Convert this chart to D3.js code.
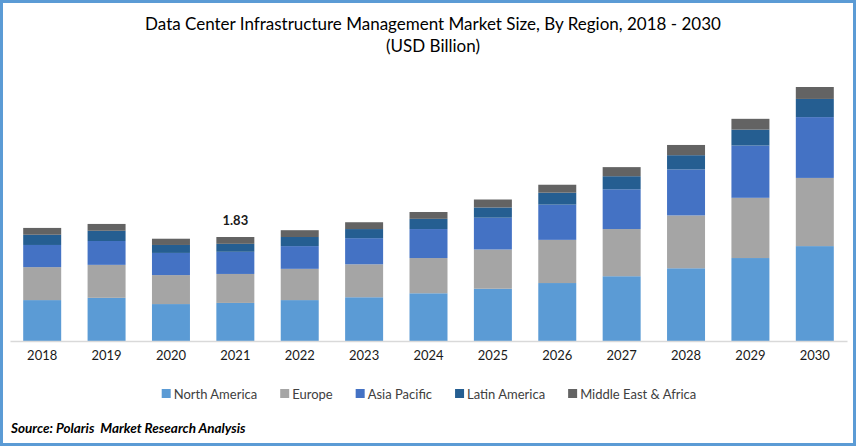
<!DOCTYPE html>
<html>
<head>
<meta charset="utf-8">
<script src="https://cdn.jsdelivr.net/npm/d3@7"></script>
<style>
  html, body { margin: 0; padding: 0; background: #fff; }
  svg { display: block; }
  text { font-family: Lato, "Open Sans", sans-serif; }
</style>
</head>
<body>
<svg id="chart" width="856" height="446"></svg>
<script>
const years = ["2018","2019","2020","2021","2022","2023","2024","2025","2026","2027","2028","2029","2030"];
const seriesNames = ["North America","Europe","Asia Pacific","Latin America","Middle East & Africa"];
const northAmerica = [0.72,0.76,0.65,0.67,0.72,0.77,0.84,0.92,1.02,1.14,1.28,1.46,1.67];
const europe       = [0.58,0.58,0.51,0.51,0.55,0.58,0.62,0.69,0.76,0.83,0.93,1.06,1.20];
const asiaPacific  = [0.39,0.42,0.39,0.39,0.40,0.46,0.51,0.56,0.62,0.70,0.81,0.92,1.07];
const latinAmerica = [0.18,0.18,0.14,0.14,0.16,0.16,0.18,0.18,0.21,0.23,0.25,0.28,0.32];
const middleEast   = [0.12,0.12,0.11,0.12,0.12,0.12,0.12,0.14,0.14,0.16,0.18,0.19,0.21];
const colors = ["#5b9bd5","#a5a5a5","#4472c4","#255e91","#636363"];
const annotation = { year: "2021", label: "1.83" };

const seriesValues = [northAmerica, europe, asiaPacific, latinAmerica, middleEast];
const table = years.map((y, i) => {
  const row = { year: y };
  seriesNames.forEach((s, j) => row[s] = seriesValues[j][i]);
  return row;
});

const svg = d3.select("#chart");
const W = 856, H = 446;

const x = d3.scaleBand().domain(years).range([10, 847]).paddingInner(0.41).paddingOuter(0.205);
const y = d3.scaleLinear().domain([0, 4.5]).range([341, 85.3]);

const stacked = d3.stack().keys(seriesNames)(table);

svg.append("g").selectAll("g").data(stacked).join("g")
  .attr("fill", (d, i) => colors[i])
  .selectAll("rect").data(d => d).join("rect")
  .attr("x", d => x(d.data.year))
  .attr("width", x.bandwidth())
  .attr("y", d => y(d[1]))
  .attr("height", d => y(d[0]) - y(d[1]));

// x axis
const xAxis = svg.append("g").attr("transform", "translate(0,341)")
  .call(d3.axisBottom(x).tickSize(0).tickPadding(10));
xAxis.select(".domain").attr("stroke", "#d9d9d9").attr("stroke-width", 1.5);
xAxis.selectAll("text").attr("font-size", 13).attr("fill", "#1a1a1a")
  .style("font-family", "Lato, sans-serif");

// annotation
const annIdx = years.indexOf(annotation.year);
const annTotal = seriesValues.reduce((s, arr) => s + arr[annIdx], 0);
svg.append("text")
  .attr("x", x(annotation.year) + x.bandwidth() / 2)
  .attr("y", y(annTotal) - 12)
  .attr("text-anchor", "middle")
  .attr("font-size", 13).attr("font-weight", "bold").attr("fill", "#1a1a1a")
  .text(annotation.label);

// title
svg.append("text").attr("x", 433).attr("y", 30).attr("text-anchor", "middle")
  .attr("font-size", 17).attr("fill", "#000")
  .text("Data Center Infrastructure Management Market Size, By Region, 2018 - 2030");
svg.append("text").attr("x", 433).attr("y", 52).attr("text-anchor", "middle")
  .attr("font-size", 17).attr("fill", "#000")
  .text("(USD Billion)");

// legend
const legend = svg.append("g");
const gap = 23;
let lx = 0;
seriesNames.forEach((name, i) => {
  const g = legend.append("g").attr("transform", `translate(${lx},0)`);
  g.append("rect").attr("x", 0).attr("y", -5).attr("width", 9).attr("height", 9).attr("fill", colors[i]);
  const t = g.append("text").attr("x", 12).attr("y", 0).attr("dy", "0.35em")
    .attr("font-size", 13).attr("fill", "#404040").text(name);
  lx += 12 + t.node().getComputedTextLength() + gap;
});
const lw = lx - gap;
legend.attr("transform", `translate(${429 - lw / 2},394)`);

// source
svg.append("text").attr("x", 11).attr("y", 433)
  .attr("font-size", 13.5).attr("font-weight", "bold").attr("font-style", "italic").attr("fill", "#000")
  .style("white-space", "pre")
  .text("Source: Polaris  Market Research Analysis");

// border
svg.append("rect").attr("x", 1.5).attr("y", 1.5).attr("width", W - 3).attr("height", H - 3)
  .attr("fill", "none").attr("stroke", "#5b9bd5").attr("stroke-width", 3);
</script>
</body>
</html>
